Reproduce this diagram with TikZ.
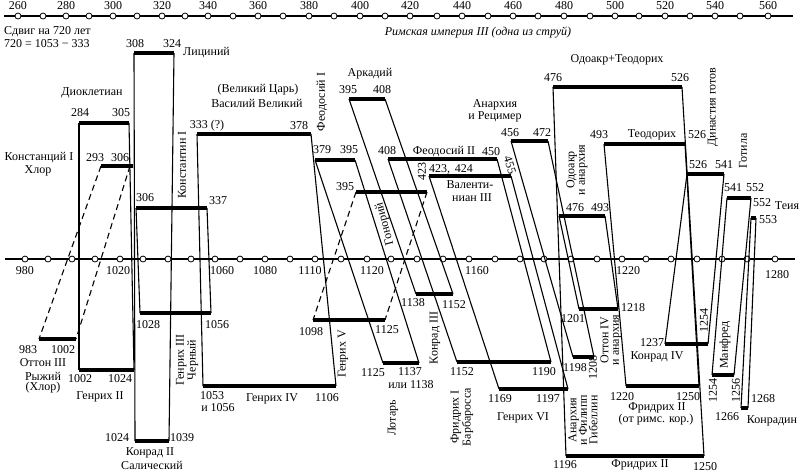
\documentclass[tikz,border=0pt]{standalone}
\usepackage{fontspec}
\setmainfont{Liberation Serif}
\newcommand\mkbar[4]{\coordinate (#1-L) at (#2,#4); \coordinate (#1-R) at (#3,#4); \draw[bar] (#1-L) -- (#1-R);}
\begin{document}
\begin{tikzpicture}[x=1pt,y=-1pt,
  bar/.style={line width=3.6pt},
  link/.style={line width=1.1pt},
  dlink/.style={line width=1.1pt, dash pattern=on 6pt off 4pt},
  lbl/.style={font=\fontsize{12}{12}\selectfont, inner sep=0pt},
  vl/.style={inner sep=0pt, rotate=90, align=center, font=\fontsize{12}{10.5}\selectfont},
  tick/.style={circle, draw, fill=white, line width=0.8pt, minimum size=6pt, inner sep=0pt}]
\useasboundingbox (0,0) rectangle (800,475);

% ---------- axes ----------
\coordinate (ta0) at (4,16); \coordinate (ta1) at (793,16);
\draw[line width=1.8pt] (ta0) -- (ta1);
\foreach \x [count=\i] in {18,43,66,89,113,137,162,185,208,233,258,283,309,334,360,385,410,437,462,488,513,538,564,590,615,639,665,690,715,740,768}
  \node[tick] (tt\i) at (\x,16) {};
\foreach \x/\t in {18/260,66/280,113/300,162/320,208/340,258/360,309/380,360/400,410/420,462/440,513/460,564/480,615/500,665/520,715/540,768/560}
  \node[lbl] (tl\t) at (\x,6) {\t};

\coordinate (ba0) at (5,259); \coordinate (ba1) at (795,259);
\draw[line width=1.8pt] (ba0) -- (ba1);
\foreach \x [count=\i] in {25,48,72,95,120,143,168,191,215,240,265,290,315,341,367,391,417,443,469,495,520,544,571,597,622,646,671,697,722,747,775}
  \node[tick] (bt\i) at (\x,259) {};
\foreach \x/\t in {25/980,118/1020,222/1060,265/1080,310/1110,372/1120,477/1160,628/1220}
  \node[lbl] (bl\t) at (\x,271) {\t};
\node[lbl] (bl1280) at (777,275) {1280};

\node[lbl, anchor=west] (shift1) at (4,32) {Сдвиг на 720 лет};
\node[lbl, anchor=west] (shift2) at (4,44) {720 = 1053 − 333};
\node[lbl, font=\fontsize{12}{12}\selectfont\itshape] (title) at (478,33) {Римская империя III (одна из струй)};

% ---------- upper bars ----------
\mkbar{dio}{79}{129}{123}
\mkbar{lic}{134}{174}{53}
\mkbar{chl}{101}{133}{166}
\mkbar{cons}{136}{207}{208}
\mkbar{bas}{197}{311}{134}
\mkbar{teoA}{315}{355}{160}
\mkbar{arc}{349}{385}{99}
\mkbar{hon}{356}{427}{192}
\mkbar{teoB}{388}{497}{159}
\mkbar{val}{429}{511}{176}
\mkbar{ric}{511}{548}{141}
\mkbar{ot}{553}{682}{87}
\mkbar{oa}{559}{605}{216}
\mkbar{theo}{604}{685}{144}
\mkbar{dyn}{687}{724}{174}
\mkbar{got}{727}{751}{198}
\mkbar{teia}{751}{756}{218}

% ---------- lower bars ----------
\mkbar{ottoA}{39}{76}{339}
\mkbar{henB}{79}{134}{370}
\mkbar{konB}{135}{169}{441}
\mkbar{henC}{140}{211}{313}
\mkbar{henD}{203}{336}{386}
\mkbar{henE}{313}{385}{320}
\mkbar{lot}{383}{419}{363}
\mkbar{konC}{416}{453}{294}
\mkbar{barb}{457}{551}{362}
\mkbar{henF}{499}{568}{389}
\mkbar{phil}{573}{594}{357}
\mkbar{ottoD}{579}{618}{309}
\mkbar{frA}{566}{704}{456}
\mkbar{frB}{626}{699}{386}
\mkbar{konD}{665}{708}{344}
\mkbar{man}{712}{734}{375}
\mkbar{kdn}{741}{748}{408}

% ---------- connectors ----------
\foreach \a/\b in {dio/henB,lic/konB,cons/henC,bas/henD,teoA/lot,arc/konC,teoB/barb,val/henF,ric/phil,ot/frA,oa/ottoD,theo/frB,dyn/konD,got/man,teia/kdn}{
  \draw[link] (\a-L) -- (\b-L);
  \draw[link] (\a-R) -- (\b-R);
}
\coordinate (chl-R2) at (130,166);
\draw[dlink] (chl-L) -- (ottoA-L);
\draw[dlink] (chl-R2) -- (ottoA-R);
\draw[dlink] (hon-L) -- (henE-L);
\draw[dlink] (hon-R) -- (henE-R);

% ---------- upper labels ----------
\node[lbl] (u1) at (135,44) {308};
\node[lbl] (u2) at (172,44) {324};
\node[lbl, anchor=west] (u3) at (183,53) {Лициний};
\node[lbl] (u4) at (92,93) {Диоклетиан};
\node[lbl] (u5) at (80,113) {284};
\node[lbl] (u6) at (121,113) {305};
\node[lbl] (u7) at (39,158) {Констанций I};
\node[lbl] (u8) at (38,171) {Хлор};
\node[lbl] (u9) at (95,158) {293};
\node[lbl] (u10) at (120,158) {306};
\node[lbl] (u11) at (145,198) {306};
\node[lbl] (u12) at (218,201) {337};
\node[vl] (u13) at (182,165) {Константин I};
\node[lbl] (u14) at (258,90) {(Великий Царь)};
\node[lbl] (u15) at (257,103) {Василий Великий};
\node[lbl] (u16) at (207,126) {333 (?)};
\node[lbl] (u17) at (299,126) {378};
\node[vl] (u18) at (322,102) {Феодосий I};
\node[lbl] (u19) at (322,150) {379};
\node[lbl] (u20) at (349,150) {395};
\node[lbl] (u21) at (370,74) {Аркадий};
\node[lbl] (u22) at (348,90) {395};
\node[lbl] (u23) at (382,90) {408};
\node[lbl] (u24) at (345,187) {395};
\node[vl, rotate=15] (u25) at (385,224) {Гонорий};
\node[vl] (u26) at (422,171) {423};
\node[lbl] (u27) at (387,151) {408};
\node[lbl] (u28) at (444,152) {Феодосий II};
\node[lbl] (u29) at (491,152) {450};
\node[vl, rotate=-162] (u30) at (510,165) {455};
\node[lbl] (u31) at (451,169) {423,\, 424};
\node[lbl] (u32) at (470,185) {Валенти-};
\node[lbl] (u33) at (472,198) {ниан III};
\node[lbl] (u34) at (495,105) {Анархия};
\node[lbl] (u35) at (495,117) {и Рецимер};
\node[lbl] (u36) at (510,133) {456};
\node[lbl] (u37) at (542,133) {472};
\node[lbl] (u38) at (617,60) {Одоакр+Теодорих};
\node[lbl] (u39) at (553,78) {476};
\node[lbl] (u40) at (680,78) {526};
\node[vl] (u41) at (577,170) {Одоакр\\и анархия};
\node[lbl] (u42) at (575,208) {476};
\node[lbl] (u43) at (600,208) {493};
\node[lbl] (u44) at (599,135) {493};
\node[lbl] (u45) at (652,135) {Теодорих};
\node[lbl] (u46) at (697,135) {526};
\node[vl] (u47) at (713,107) {Династия готов};
\node[lbl] (u48) at (698,165) {526};
\node[lbl] (u49) at (724,165) {541};
\node[vl] (u50) at (743,151) {Готила};
\node[lbl] (u51) at (733,188) {541};
\node[lbl] (u52) at (755,188) {552};
\node[lbl] (u53) at (762,203) {552};
\node[lbl] (u54) at (787,206) {Теия};
\node[lbl] (u55) at (768,220) {553};

% ---------- lower labels ----------
\node[lbl] (d1) at (28,350) {983};
\node[lbl] (d2) at (63,350) {1002};
\node[lbl] (d3) at (43,363) {Оттон III};
\node[lbl] (d4) at (43,376) {Рыжий};
\node[lbl] (d5) at (43,388) {(Хлор)};
\node[lbl] (d6) at (80,379) {1002};
\node[lbl] (d7) at (120,379) {1024};
\node[lbl] (d8) at (100,397) {Генрих II};
\node[lbl] (d9) at (117,438) {1024};
\node[lbl] (d10) at (182,438) {1039};
\node[lbl] (d11) at (150,453) {Конрад II};
\node[lbl] (d12) at (152,465) {Салический};
\node[lbl] (d13) at (148,325) {1028};
\node[lbl] (d14) at (217,325) {1056};
\node[vl] (d15) at (187,360) {Генрих III\\Черный};
\node[lbl] (d16) at (212,396) {1053};
\node[lbl] (d17) at (218,408) {и 1056};
\node[lbl] (d18) at (272,399) {Генрих IV};
\node[lbl] (d19) at (327,398) {1106};
\node[lbl] (d20) at (311,332) {1098};
\node[lbl] (d21) at (387,330) {1125};
\node[vl] (d22) at (343,354) {Генрих V};
\node[lbl] (d23) at (373,373) {1125};
\node[lbl] (d24) at (410,372) {1137};
\node[lbl] (d25) at (411,385) {или 1138};
\node[vl] (d26) at (393,418) {Лотарь};
\node[lbl] (d27) at (413,303) {1138};
\node[lbl] (d28) at (454,305) {1152};
\node[vl] (d29) at (435,338) {Конрад III};
\node[lbl] (d30) at (462,372) {1152};
\node[lbl] (d31) at (544,372) {1190};
\node[vl] (d32) at (462,417) {Фридрих I\\Барбаросса};
\node[lbl] (d33) at (500,399) {1169};
\node[lbl] (d34) at (548,399) {1197};
\node[lbl] (d35) at (523,418) {Генрих VI};
\node[vl] (d36) at (583,420) {Анархия\\и Филипп\\Гибеллин};
\node[lbl] (d37) at (575,368) {1198};
\node[vl] (d38) at (593,367) {1208};
\node[vl] (d39) at (611,340) {Оттон IV\\и анархия};
\node[lbl] (d40) at (573,319) {1201};
\node[lbl] (d41) at (633,308) {1218};
\node[lbl] (d42) at (622,397) {1220};
\node[lbl] (d43) at (688,397) {1250};
\node[lbl] (d44) at (657,408) {Фридрих II};
\node[lbl] (d45) at (656,420) {(от римс. кор.)};
\node[lbl] (d46) at (652,343) {1237};
\node[lbl] (d47) at (657,357) {Конрад IV};
\node[vl] (d48) at (704,320) {1254};
\node[vl] (d49) at (725,345) {Манфред};
\node[vl] (d50) at (713,390) {1254};
\node[vl] (d51) at (736,390) {1256};
\node[lbl] (d52) at (727,417) {1266};
\node[lbl] (d53) at (763,399) {1268};
\node[lbl] (d54) at (772,421) {Конрадин};
\node[lbl] (d55) at (565,465) {1196};
\node[lbl] (d56) at (640,465) {Фридрих II};
\node[lbl] (d57) at (705,467) {1250};
\end{tikzpicture}
\end{document}
